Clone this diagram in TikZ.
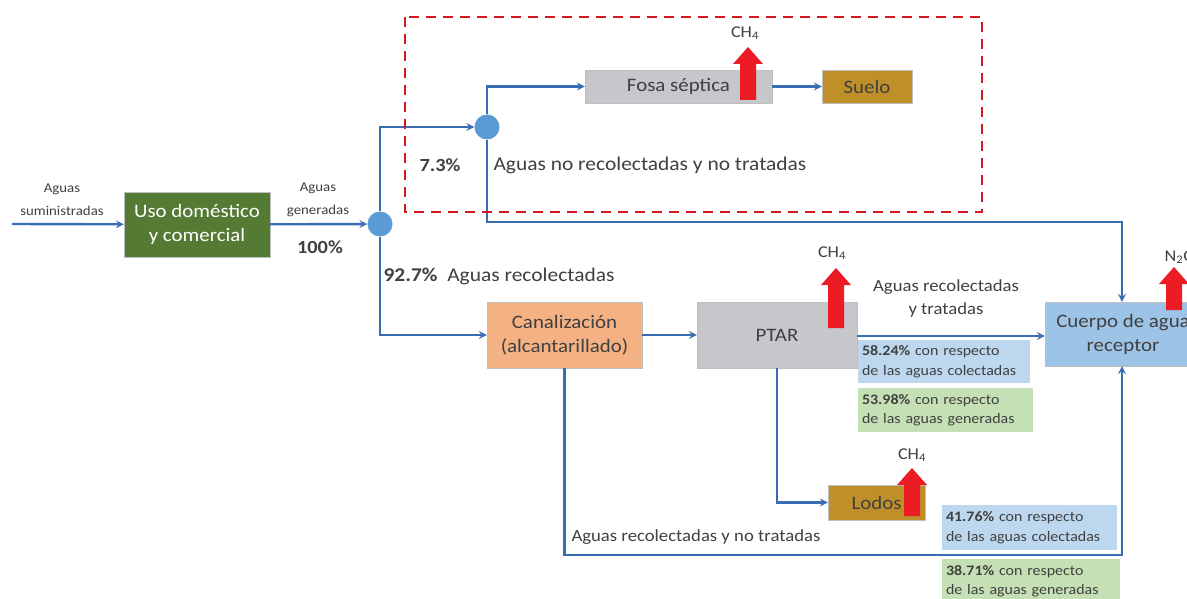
\documentclass[tikz,border=0pt]{standalone}
\usepackage{fontspec}
\setmainfont{Carlito}[FakeStretch=1.1]
\usepackage{tikz}
\usetikzlibrary{arrows,positioning,calc}

\definecolor{flowblue}{RGB}{58,110,180}
\definecolor{nodeblue}{RGB}{91,155,213}
\definecolor{usogreen}{RGB}{84,122,52}
\definecolor{boxgray}{RGB}{198,198,203}
\definecolor{ochre}{RGB}{191,143,42}
\definecolor{salmon}{RGB}{244,177,131}
\definecolor{waterblue}{RGB}{157,195,230}
\definecolor{lblblue}{RGB}{189,215,238}
\definecolor{lblgreen}{RGB}{197,224,180}
\definecolor{txtgray}{RGB}{64,64,64}
\definecolor{gasred}{RGB}{235,28,36}

\begin{document}
\begin{tikzpicture}[
    x=1pt, y=-1pt,
    font=\fontsize{19.5}{23}\selectfont, text=txtgray,
    box/.style={rectangle, draw=black!25, align=center, inner sep=2pt, font=\fontsize{19}{24}\selectfont},
    stage/.style={box, fill=boxgray},
    sink/.style={box, fill=ochre},
    junction/.style={circle, fill=nodeblue, minimum size=25pt, inner sep=0pt},
    pct/.style={rectangle, align=left, text width=#1, inner xsep=4pt, inner ysep=3pt,
        font=\fontsize{14.5}{19.5}\selectfont},
    small/.style={align=center, font=\fontsize{13.5}{23}\selectfont},
    gaslbl/.style={font=\fontsize{16.5}{19}\selectfont},
    bold/.style={font=\fontsize{18.5}{22}\selectfont\bfseries},
    flow/.style={->, >=stealth, draw=flowblue, line width=2.4pt},
    pics/gas/.style={code={
        \fill[gasred] (-8,0) -- (-8,{-#1+17}) -- (-15,{-#1+17}) -- (0,-#1)
            -- (15,{-#1+17}) -- (8,{-#1+17}) -- (8,0) -- cycle;}}
]
\useasboundingbox (0,0) rectangle (1187,599);
\clip (0,0) rectangle (1187,599);
\fill[white] (0,0) rectangle (1187,599);

% Nodes
\node[box, fill=usogreen, text=white, minimum width=146pt, minimum height=65pt] (uso) at (197,224.5) {Uso doméstico\\y comercial};
\node[junction] (cin) at (380,224) {};
\node[junction] (cup) at (487,127) {};
\node[stage, minimum width=187pt, minimum height=33pt] (fosa) at (678.5,86.5) {Fosa séptica};
\node[sink, minimum width=90pt, minimum height=33pt] (suelo) at (867,86.5) {Suelo};
\node[box, fill=salmon, minimum width=155pt, minimum height=66pt] (canal) at (564.5,335) {Canalización\\(alcantarillado)};
\node[stage, minimum width=160pt, minimum height=66pt] (ptar) at (777,335) {PTAR};
\node[box, fill=waterblue, minimum width=156pt, minimum height=64pt] (cuerpo) at (1123,334) {Cuerpo de agua\\receptor};
\node[sink, minimum width=97pt, minimum height=35pt] (lodos) at (876.5,502.5) {Lodos};

\node[pct=164pt, fill=lblblue, minimum height=43pt] (col1) at (944,361.5) {\textbf{58.24\%} con respecto\\de las aguas colectadas};
\node[pct=167pt, fill=lblgreen, minimum height=44pt] (gen1) at (945.5,410) {\textbf{53.98\%} con respecto\\de las aguas generadas};
\node[pct=167pt, fill=lblblue, minimum height=45pt] (col2) at (1029.5,527.5) {\textbf{41.76\%} con respecto\\de las aguas colectadas};
\node[pct=170pt, fill=lblgreen, minimum height=45pt] (gen2) at (1031,581) {\textbf{38.71\%} con respecto\\de las aguas generadas};

\coordinate (src) at (12,224);
\coordinate (bend1) at (1122,222);
\coordinate (bend2) at (1122,555);

% Edges
\draw[flow] (src) -- (uso);
\draw[flow] (uso) -- (cin);
\draw[flow] (cin.north) |- (cup.west);
\draw[flow] (cup.north) |- (fosa.west);
\draw[flow] (fosa) -- (suelo);
\draw[flow] (cup.south) |- (bend1) -- (bend1 |- cuerpo.north);
\draw[flow] (cin.south) |- (canal.west);
\draw[flow] (canal) -- (ptar);
\draw[flow] (ptar.east |- 0,336) -- (cuerpo.west |- 0,336);
\draw[flow] (ptar.south) |- (lodos.west);
\draw[flow] (canal.south) |- (bend2) -- (bend2 |- cuerpo.south);

% Emissions
\pic at (748,100) {gas=53};
\pic at (836,328) {gas=60};
\pic at (912,516) {gas=48};
\pic at (1174,310) {gas=43};
\node[gaslbl] (ch4a) at (745,33) {CH\textsubscript{4}};
\node[gaslbl] (ch4b) at (832,253) {CH\textsubscript{4}};
\node[gaslbl] (ch4c) at (912,455) {CH\textsubscript{4}};
\node[gaslbl] (n2o) at (1180,257) {N\textsubscript{2}O};

% Labels
\node[small] (lblin) at (62,200) {Aguas\\suministradas};
\node[small] (lblgen) at (318,200) {Aguas\\generadas};
\node[bold] (p100) at (320,247) {100\%};
\node[bold] (p73) at (440,165) {7.3\%};
\node[anchor=west] (lblnr) at (490,165) {Aguas no recolectadas y no tratadas};
\node[anchor=west] (lblrec) at (380,276) {\textbf{92.7\%}\enspace Aguas recolectadas};
\node[small, font=\fontsize{17}{23}\selectfont] (lbltr) at (946,298) {Aguas recolectadas\\y tratadas};
\node[anchor=west, font=\fontsize{17}{20}\selectfont] (lblnt) at (568,537) {Aguas recolectadas y no tratadas};

% Adaptation boundary
\draw[dashed, dash pattern=on 10pt off 7pt, line width=2.5pt, gasred!90!black] (405,17) rectangle (982,212);
\end{tikzpicture}
\end{document}
